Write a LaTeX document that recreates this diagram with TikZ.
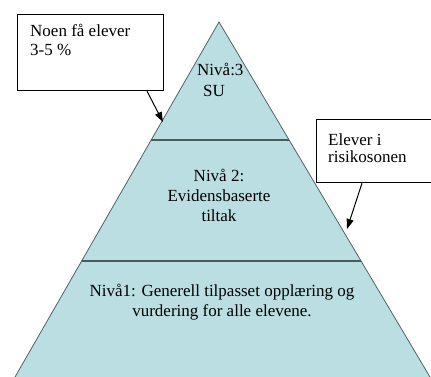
\documentclass[tikz,border=0pt]{standalone}
\usepackage{fontspec}
\setmainfont{Liberation Serif}
\usetikzlibrary{arrows.meta,calc}
\definecolor{pyrfill}{RGB}{186,222,226}
\definecolor{pyrline}{RGB}{80,100,100}
\definecolor{divline}{RGB}{70,92,92}
\tikzset{
  txt/.style={inner sep=0pt, font=\rmfamily\fontsize{17}{20}\selectfont},
  callout/.style={draw=black, line width=1.2pt, fill=white, inner sep=0pt},
  arr/.style={-{Triangle[length=10pt,width=7pt]}, line width=1pt, black},
}
\begin{document}
\begin{tikzpicture}[x=1pt,y=-1pt]
\useasboundingbox (0,0) rectangle (431,377);
\clip (0,0) rectangle (431,377);
% pyramid
\coordinate (top) at (219,22);
\coordinate (bl) at (15,377);
\coordinate (br) at (430,377);
\fill[pyrfill] (top) -- (br) -- ([yshift=-5pt]br) -- ([yshift=-5pt]bl) -- (bl) -- cycle;
\draw[pyrline, line width=0.8pt] (bl) -- (top) -- (br);
\coordinate (l1) at ($(top)!0.3324!(bl)$);
\coordinate (r1) at ($(top)!0.3324!(br)$);
\coordinate (l2) at ($(top)!0.6732!(bl)$);
\coordinate (r2) at ($(top)!0.6732!(br)$);
\draw[divline, line width=1.1pt] (l1) -- (r1);
\draw[divline, line width=1.1pt] (l2) -- (r2);
% level texts
\node[txt, anchor=base west] (n3a) at (197,76) {Nivå:3};
\node[txt, anchor=base west] (n3b) at (203,97) {SU};
\node[txt, anchor=base] (n2a) at (219,181) {Nivå 2:};
\node[txt, anchor=base] (n2b) at (219,201) {Evidensbaserte};
\node[txt, anchor=base] (n2c) at (219,221) {tiltak};
\node[txt, anchor=base] (n1a) at (222,296) {Nivå1: Generell tilpasset opplæring og};
\node[txt, anchor=base] (n1b) at (222,316) {vurdering for alle elevene.};
% callout boxes
\node[callout, anchor=north west, minimum width=146pt, minimum height=76pt] (b1) at (17,14) {};
\node[txt, anchor=base west] (b1a) at (30,37) {Noen få elever};
\node[txt, anchor=base west] (b1b) at (30,56) {3-5 \%};
\node[callout, anchor=north west, minimum width=124pt, minimum height=63pt] (b2) at (316,119) {};
\node[txt, anchor=base west] (b2a) at (328,146) {Elever i};
\node[txt, anchor=base west] (b2b) at (328,163) {risikosonen};
% arrows
\coordinate (s1) at (147,0);
\coordinate (e1) at (163,122);
\coordinate (s2) at (362,0);
\coordinate (e2) at (347,229);
\draw[arr] (b1.south -| s1) -- (e1);
\draw[arr] (b2.south -| s2) -- (e2);
\end{tikzpicture}
\end{document}
